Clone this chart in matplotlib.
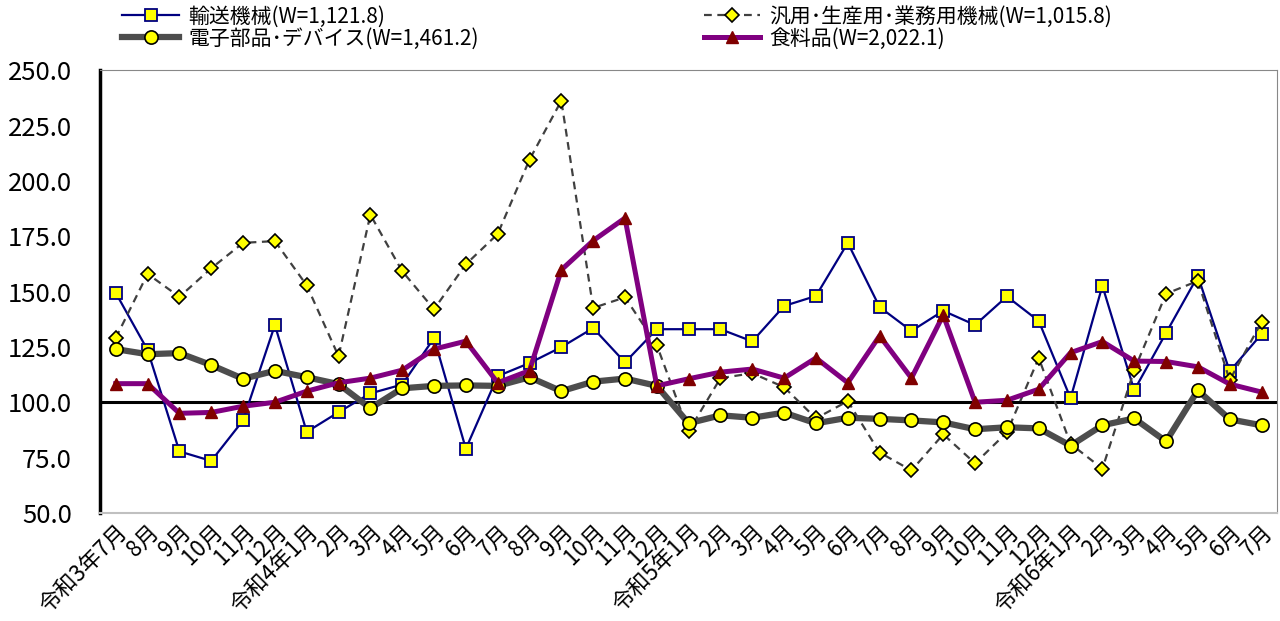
import matplotlib
matplotlib.use("Agg")
import matplotlib.pyplot as plt

plt.rcParams["font.family"] = ["Noto Sans CJK JP", "DejaVu Sans"]

# -----------------------------
# Data (index)
# -----------------------------
months = ["令和3年7月", "8月", "9月", "10月", "11月", "12月",
          "令和4年1月", "2月", "3月", "4月", "5月", "6月", "7月", "8月", "9月", "10月", "11月", "12月",
          "令和5年1月", "2月", "3月", "4月", "5月", "6月", "7月", "8月", "9月", "10月", "11月", "12月",
          "令和6年1月", "2月", "3月", "4月", "5月", "6月", "7月"]

transport = [149.4, 123.6, 77.8, 73.5, 91.8, 134.9, 86.6, 95.5, 104.0, 108.0, 129.0, 79.0,
             111.8, 117.7, 124.9, 133.5, 118.0, 133.0, 133.0, 133.0, 127.5, 143.5, 148.0, 172.0,
             143.0, 132.2, 141.3, 134.9, 147.8, 136.7, 101.8, 152.6, 105.4, 131.3, 157.0, 114.0, 130.8]

general_machinery = [129.0, 158.0, 147.6, 160.5, 172.0, 172.8, 152.8, 120.8, 184.7, 159.2, 142.0, 162.3,
                     176.0, 209.6, 236.2, 142.6, 147.4, 125.8, 86.9, 110.9, 113.1, 106.8, 92.7, 100.5,
                     77.3, 69.2, 85.5, 72.4, 86.4, 120.0, 81.2, 70.0, 114.5, 149.0, 154.8, 110.0, 136.2]

electronics = [124.0, 121.7, 122.2, 116.8, 110.6, 114.2, 111.3, 108.2, 97.3, 106.3, 107.4, 107.6,
               107.4, 111.3, 105.0, 109.3, 110.7, 107.4, 90.5, 94.1, 93.0, 95.3, 90.5, 93.0,
               92.5, 91.8, 90.9, 87.8, 88.7, 88.2, 80.4, 89.6, 92.7, 82.3, 105.4, 92.3, 89.6]

food = [108.4, 108.4, 95.0, 95.4, 98.2, 100.0, 105.0, 108.8, 110.9, 114.5, 124.0, 127.6,
        108.8, 114.3, 159.8, 173.0, 183.2, 107.4, 110.6, 113.6, 115.0, 110.9, 120.0, 108.8,
        130.0, 110.9, 139.4, 100.0, 100.9, 105.9, 122.4, 127.4, 118.6, 118.4, 116.0, 108.2, 104.6]

labels = ["輸送機械(W=1,121.8)", "汎用･生産用･業務用機械(W=1,015.8)",
          "電子部品･デバイス(W=1,461.2)", "食料品(W=2,022.1)"]

x = list(range(len(months)))

# -----------------------------
# Plot
# -----------------------------
fig = plt.figure(figsize=(12.8, 6.21), dpi=100)
ax = fig.add_axes([0.078, 0.174, 0.92, 0.713])

ax.axhline(100.0, color="black", linewidth=2.2, zorder=1)

l1, = ax.plot(x, transport, color="#000080", linewidth=1.6, marker="s", markersize=9,
              markerfacecolor="#FFFF00", markeredgecolor="#000080", markeredgewidth=1.3, zorder=3)
l2, = ax.plot(x, general_machinery, color="#404040", linewidth=1.6, linestyle=(0, (3.5, 2.5)),
              marker="D", markersize=7.5, markerfacecolor="#FFFF00", markeredgecolor="black",
              markeredgewidth=1.2, zorder=4)
l3, = ax.plot(x, electronics, color="#4D4D4D", linewidth=4.5, marker="o", markersize=9.5,
              markerfacecolor="#FFFF00", markeredgecolor="black", markeredgewidth=1.2, zorder=5)
l4, = ax.plot(x, food, color="#800080", linewidth=3.6, marker="^", markersize=8,
              markerfacecolor="#800000", markeredgecolor="#800000", zorder=6)

ax.set_xlim(-0.5, len(months) - 0.5)
ax.set_ylim(50, 250)
ax.set_yticks([50, 75, 100, 125, 150, 175, 200, 225, 250])
ax.set_yticklabels([f"{v:.1f}" for v in ax.get_yticks()], fontsize=18.5)
ax.set_xticks(x)
ax.set_xticklabels(months, rotation=45, ha="right", rotation_mode="anchor", fontsize=16)
ax.tick_params(axis="both", length=0)
ax.tick_params(axis="y", pad=20)
ax.tick_params(axis="x", pad=5)

ax.spines["left"].set_color("black")
ax.spines["left"].set_linewidth(2.5)
ax.spines["top"].set_color("#888888")
ax.spines["right"].set_color("#888888")
ax.spines["bottom"].set_color("#C0C0C0")
ax.spines["bottom"].set_linewidth(1.5)

fig.legend([l1, l3, l2, l4], [labels[0], labels[2], labels[1], labels[3]],
           loc="upper left", bbox_to_anchor=(0.081, 1.021), ncol=2, frameon=False,
           fontsize=15, handlelength=2.7, columnspacing=10.8, labelspacing=0.0,
           handletextpad=0.45)

plt.savefig("out.png", dpi=100)
